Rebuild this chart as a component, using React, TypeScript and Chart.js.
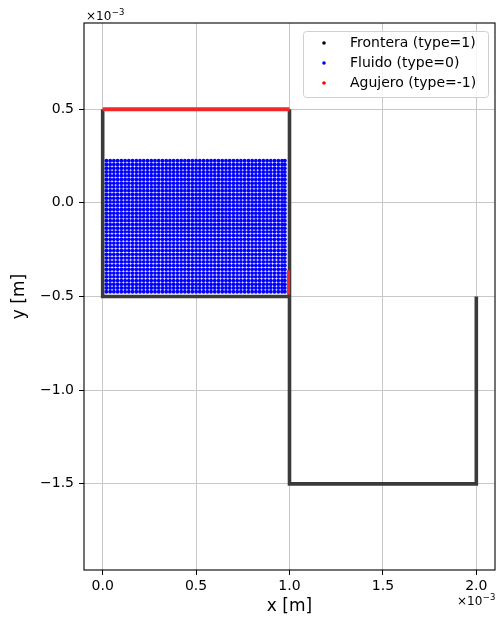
import { useEffect, useRef } from "react";
import { Chart, registerables } from "chart.js";

Chart.register(...registerables);

// Axis values are in units of 1e-3 m (matplotlib offset text "×10⁻³")
const X_TICKS = [0.0, 0.5, 1.0, 1.5, 2.0];
const Y_TICKS = [-1.5, -1.0, -0.5, 0.0, 0.5];
const X_LIMITS = [-0.1, 2.1];
const Y_LIMITS = [-1.96, 0.96];

const SERIES_LABELS = ["Frontera (type=1)", "Fluido (type=0)", "Agujero (type=-1)"];
const SERIES_COLORS = ["#000000", "#0000ff", "#ff0000"];

// Frontera (type=1): boundary walls
const FRONTERA_IZQ_X = [0, 0, 1];
const FRONTERA_IZQ_Y = [0.5, -0.5, -0.5];
const FRONTERA_DER_X = [1, 1, 2, 2];
const FRONTERA_DER_Y = [0.5, -1.5, -1.5, -0.5];

// Agujero (type=-1): lid and side opening
const AGUJERO_SUP_X = [0, 1];
const AGUJERO_SUP_Y = [0.5, 0.5];
const AGUJERO_LAT_X = [0.995, 0.995];
const AGUJERO_LAT_Y = [-0.36, -0.49];

// Fluido (type=0): particle columns and rows
const FLUIDO_X = [
  0.02, 0.04, 0.06, 0.08, 0.1, 0.12, 0.14, 0.16, 0.18, 0.2, 0.22, 0.24, 0.26, 0.28, 0.3, 0.32,
  0.34, 0.36, 0.38, 0.4, 0.42, 0.44, 0.46, 0.48, 0.5, 0.52, 0.54, 0.56, 0.58, 0.6, 0.62, 0.64,
  0.66, 0.68, 0.7, 0.72, 0.74, 0.76, 0.78, 0.8, 0.82, 0.84, 0.86, 0.88, 0.9, 0.92, 0.94, 0.96,
  0.975,
];
const FLUIDO_Y = [
  -0.475, -0.455, -0.435, -0.415, -0.395, -0.375, -0.355, -0.335, -0.315, -0.295, -0.275,
  -0.255, -0.235, -0.215, -0.195, -0.175, -0.155, -0.135, -0.115, -0.095, -0.075, -0.055,
  -0.035, -0.015, 0.005, 0.025, 0.045, 0.065, 0.085, 0.105, 0.125, 0.145, 0.165, 0.185, 0.205,
  0.225,
];

const FONT = '"DejaVu Sans", sans-serif';

const zip = (xs: number[], ys: number[]) => xs.map((x, i) => ({ x, y: ys[i] }));

const fmt = (v: number) => (v < 0 ? "\u2212" + Math.abs(v).toFixed(1) : v.toFixed(1));

function drawOffset(ctx: CanvasRenderingContext2D, x: number, baseline: number) {
  ctx.font = `12px ${FONT}`;
  ctx.fillStyle = "#000";
  ctx.textBaseline = "alphabetic";
  ctx.textAlign = "left";
  ctx.fillText("\u00d710", x, baseline);
  const w = ctx.measureText("\u00d710").width;
  ctx.font = `8.5px ${FONT}`;
  ctx.fillText("\u22123", x + w + 0.5, baseline - 5);
}

const overlayPlugin = {
  id: "overlay",
  afterDraw(chart: any) {
    const ctx: CanvasRenderingContext2D = chart.ctx;
    const a = chart.chartArea;
    ctx.save();
    // frame
    ctx.strokeStyle = "#000";
    ctx.lineWidth = 1.1;
    ctx.strokeRect(a.left, a.top, a.right - a.left, a.bottom - a.top);

    // legend
    const lx = 303.5, ly = 31.5, lw = 185, lh = 66;
    ctx.beginPath();
    ctx.roundRect(lx, ly, lw, lh, 3);
    ctx.fillStyle = "rgba(255,255,255,0.8)";
    ctx.fill();
    ctx.strokeStyle = "#d0d0d0";
    ctx.lineWidth = 1;
    ctx.stroke();
    const rows = [43, 63, 83];
    SERIES_LABELS.forEach((label, i) => {
      ctx.beginPath();
      ctx.arc(324, rows[i], 1.8, 0, Math.PI * 2);
      ctx.fillStyle = SERIES_COLORS[i];
      ctx.fill();
      ctx.font = `14px ${FONT}`;
      ctx.fillStyle = "#000";
      ctx.textBaseline = "middle";
      ctx.textAlign = "left";
      ctx.fillText(label, 350, rows[i]);
    });

    // offset texts
    drawOffset(ctx, 86, 20);
    drawOffset(ctx, 457, 605);
    ctx.restore();
  },
};

export default function App() {
  const ref = useRef<HTMLCanvasElement | null>(null);

  useEffect(() => {
    document.body.style.margin = "0";
    const canvas = ref.current;
    if (!canvas) return;

    const fluido = FLUIDO_Y.flatMap((y) => FLUIDO_X.map((x) => ({ x, y })));

    const lineDs = (label: string, data: any[], color: string, width: number, order: number) => ({
      label,
      data,
      showLine: true,
      borderColor: color,
      backgroundColor: color,
      borderWidth: width,
      pointRadius: 0,
      pointHoverRadius: 0,
      borderCapStyle: "butt",
      borderJoinStyle: "miter",
      order,
    });

    const chart = new Chart(canvas, {
      type: "scatter",
      data: {
        datasets: [
          lineDs(SERIES_LABELS[0], zip(FRONTERA_IZQ_X, FRONTERA_IZQ_Y), "#3a3a3a", 3.6, 3) as any,
          lineDs(SERIES_LABELS[0], zip(FRONTERA_DER_X, FRONTERA_DER_Y), "#3a3a3a", 3.6, 3) as any,
          {
            label: SERIES_LABELS[1],
            data: fluido,
            showLine: false,
            pointRadius: 1.95,
            pointHoverRadius: 1.95,
            pointBorderWidth: 0,
            backgroundColor: SERIES_COLORS[1],
            borderColor: SERIES_COLORS[1],
            order: 2,
          },
          lineDs(SERIES_LABELS[2], zip(AGUJERO_SUP_X, AGUJERO_SUP_Y), "#f22828", 4, 1) as any,
          lineDs(SERIES_LABELS[2], zip(AGUJERO_LAT_X, AGUJERO_LAT_Y), "#f22828", 3, 1) as any,
        ],
      },
      options: {
        animation: false,
        responsive: false,
        devicePixelRatio: 1,
        events: [],
        layout: { padding: { top: 23, right: 2, left: 0, bottom: 0 } },
        plugins: {
          legend: { display: false },
          tooltip: { enabled: false },
          title: { display: false },
        },
        scales: {
          x: {
            type: "linear",
            min: X_LIMITS[0],
            max: X_LIMITS[1],
            z: 1,
            afterBuildTicks: (s: any) => {
              s.ticks = X_TICKS.map((v) => ({ value: v }));
            },
            afterFit: (s: any) => {
              s.height = 49;
            },
            border: { display: false },
            grid: {
              color: "#c8c8c8",
              lineWidth: 1,
              drawTicks: true,
              tickLength: 5,
              tickColor: "#000",
              tickWidth: 1,
            },
            ticks: {
              color: "#000",
              font: { family: FONT, size: 14 },
              padding: 3,
              maxRotation: 0,
              callback: (v: any) => fmt(Number(v)),
            },
            title: {
              display: true,
              text: "x [m]",
              color: "#000",
              font: { family: FONT, size: 17 },
              padding: { top: 0, bottom: 2 },
            },
          },
          y: {
            type: "linear",
            min: Y_LIMITS[0],
            max: Y_LIMITS[1],
            z: 1,
            afterBuildTicks: (s: any) => {
              s.ticks = Y_TICKS.map((v) => ({ value: v }));
            },
            afterFit: (s: any) => {
              s.width = 84;
            },
            border: { display: false },
            grid: {
              color: "#c8c8c8",
              lineWidth: 1,
              drawTicks: true,
              tickLength: 5,
              tickColor: "#000",
              tickWidth: 1,
            },
            ticks: {
              color: "#000",
              font: { family: FONT, size: 14 },
              padding: 5,
              callback: (v: any) => fmt(Number(v)),
            },
            title: {
              display: true,
              text: "y [m]",
              color: "#000",
              font: { family: FONT, size: 17 },
              padding: { top: 9, bottom: 0 },
            },
          },
        },
      } as any,
      plugins: [overlayPlugin],
    });

    return () => chart.destroy();
  }, []);

  return (
    <canvas
      ref={ref}
      width={497}
      height={619}
      style={{ display: "block", width: 497, height: 619 }}
    />
  );
}
